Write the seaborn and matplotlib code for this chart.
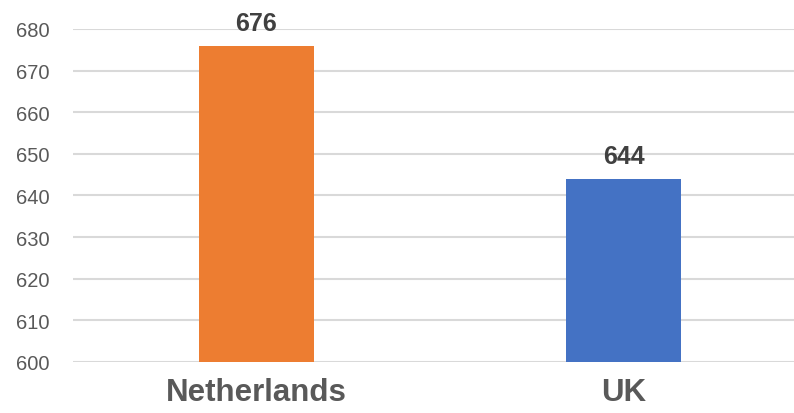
import matplotlib
matplotlib.use("Agg")
import matplotlib.pyplot as plt
import seaborn as sns
import pandas as pd

categories = ["Netherlands", "UK"]
values = [676, 644]
colors = ["#ED7D31", "#4472C4"]
yticks = [600, 610, 620, 630, 640, 650, 660, 670, 680]

sns.set_theme(style="white")
plt.rcParams['font.family'] = ['Liberation Sans', 'DejaVu Sans']

df = pd.DataFrame({"country": categories, "value": values})

fig = plt.figure(figsize=(7.94, 4.14), dpi=100)
ax = fig.add_axes([73/794, 51/414, 721/794, 333/414])

sns.barplot(data=df, x="country", y="value", hue="country", palette=colors,
            width=0.316, ax=ax, legend=False, saturation=1, linewidth=0)

ax.set_ylim(600, 680)
ax.set_xlim(-0.5, -0.5 + 721/367)
ax.set_yticks(yticks)
ax.set_yticklabels([str(t) for t in yticks], fontsize=14.5, color="#595959")
ax.yaxis.grid(True, color="#D9D9D9", linewidth=1.5)
ax.set_axisbelow(True)
ax.tick_params(axis="y", length=0, pad=17)
ax.tick_params(axis="x", length=0, pad=11)
for lab in ax.get_xticklabels():
    lab.set_fontsize(22.5)
    lab.set_fontweight("bold")
    lab.set_color("#595959")
ax.set_xlabel("")
ax.set_ylabel("")
for s in ax.spines.values():
    s.set_visible(False)

for i, v in enumerate(values):
    ax.annotate(str(v), xy=(i, v), xytext=(0, 8), textcoords="offset points",
                ha="center", va="bottom", fontsize=18, fontweight="bold",
                color="#404040", annotation_clip=False)

fig.savefig("out.png", dpi=100)
